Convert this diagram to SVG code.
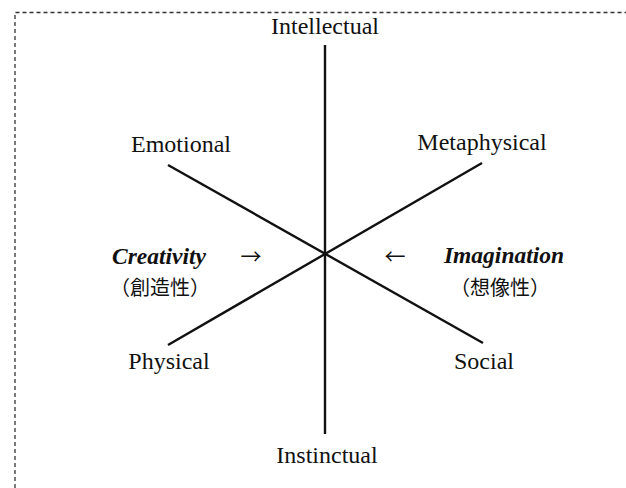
<svg xmlns="http://www.w3.org/2000/svg" width="626" height="488" viewBox="0 0 626 488">
<style>
.lbl{font-family:"Liberation Serif","Times New Roman",serif;font-size:24px;fill:#111;text-anchor:middle}
.key{font-family:"Liberation Serif","Times New Roman",serif;font-size:23.5px;font-weight:bold;font-style:italic;fill:#111;text-anchor:middle}
.cjk{font-family:"Noto Sans CJK JP","Noto Sans CJK SC",sans-serif;font-size:20px;fill:#111;text-anchor:middle}
.arr{font-family:"Noto Sans CJK JP","Noto Sans CJK SC",sans-serif;font-size:21px;fill:#111;text-anchor:middle}
.ax{stroke:#111;stroke-width:2.4;fill:none;stroke-linecap:butt}
</style>
<rect width="626" height="488" fill="#fff"/>
<path d="M15 488 V12.5 H626" fill="none" stroke="#333" stroke-width="1.3" stroke-dasharray="4 3"/>
<g id="connectors">
<line class="ax" x1="325" y1="45" x2="325" y2="434"/>
<line class="ax" x1="168" y1="165" x2="483" y2="343"/>
<line class="ax" x1="482" y1="163" x2="168" y2="345"/>
</g>
<g id="intellectual"><text class="lbl" x="325" y="34">Intellectual</text></g>
<g id="emotional"><text class="lbl" x="181" y="152">Emotional</text></g>
<g id="metaphysical"><text class="lbl" x="482" y="150">Metaphysical</text></g>
<g id="creativity"><text class="key" x="159" y="264">Creativity</text><text class="cjk" x="160" y="295">（創造性）</text><text class="arr" x="251" y="264">→</text></g>
<g id="imagination"><text class="key" x="504" y="263">Imagination</text><text class="cjk" x="500" y="295">（想像性）</text><text class="arr" x="395" y="264">←</text></g>
<g id="physical"><text class="lbl" x="169" y="369">Physical</text></g>
<g id="social"><text class="lbl" x="484" y="369">Social</text></g>
<g id="instinctual"><text class="lbl" x="327" y="463">Instinctual</text></g>
</svg>
